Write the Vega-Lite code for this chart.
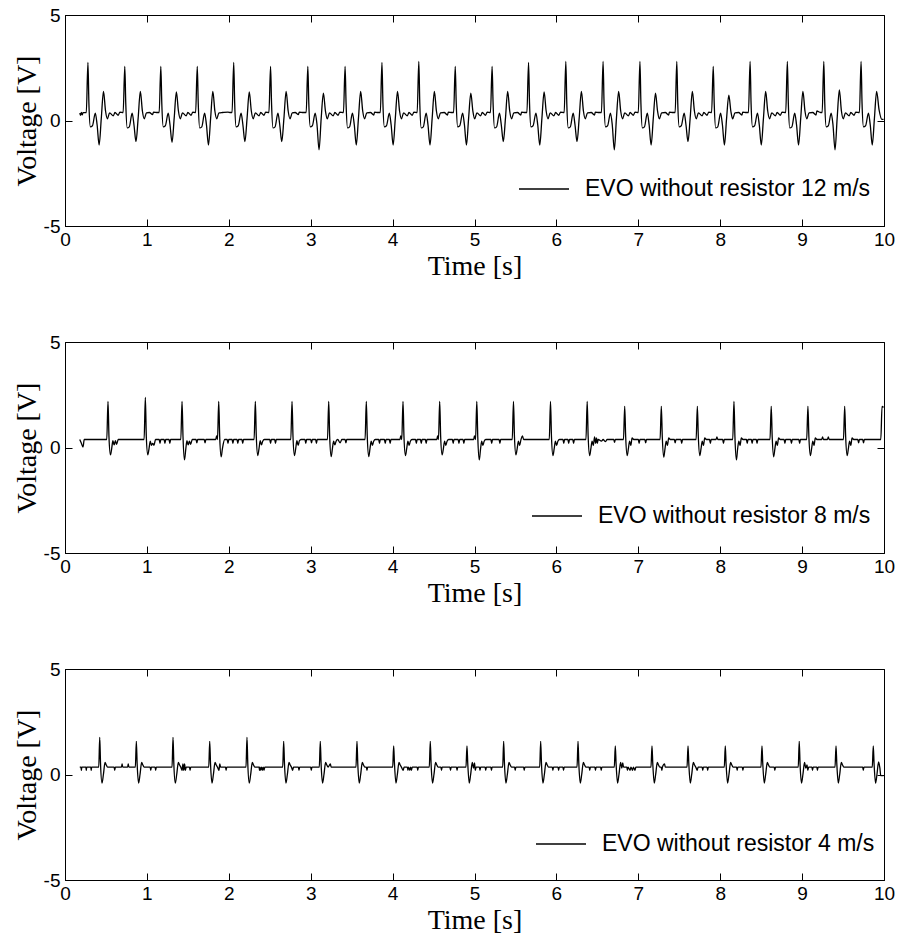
{
"$schema": "https://vega.github.io/schema/vega-lite/v6.json",
"padding": {"left": 12, "top": 5, "right": 0, "bottom": 0},
"datasets": {
"p1": [
{"t":0.18,"v":0.35},{"t":0.19,"v":0.25},{"t":0.2,"v":0.38},{"t":0.21,"v":0.27},{"t":0.22,"v":0.37},{"t":0.26,"v":0.38},
{"t":0.28,"v":2.75},{"t":0.292,"v":0.8},{"t":0.31,"v":-0.3},{"t":0.335,"v":-0.25},{"t":0.37,"v":0.35},{"t":0.392,"v":-0.2},{"t":0.417,"v":-1.16},{"t":0.443,"v":0.1},{"t":0.47,"v":1.38},{"t":0.495,"v":0.45},{"t":0.517,"v":0.08},{"t":0.545,"v":0.36},{"t":0.59,"v":0.22},{"t":0.61,"v":0.38},{"t":0.65,"v":0.25},{"t":0.67,"v":0.4},
{"t":0.71,"v":0.38},{"t":0.73,"v":2.56},{"t":0.742,"v":0.8},{"t":0.76,"v":-0.35},{"t":0.785,"v":-0.3},{"t":0.82,"v":0.35},{"t":0.842,"v":-0.2},{"t":0.867,"v":-1.0},{"t":0.893,"v":0.1},{"t":0.92,"v":1.38},{"t":0.945,"v":0.45},{"t":0.967,"v":0.08},{"t":0.995,"v":0.36},{"t":1.03,"v":0.38},{"t":1.07,"v":0.28},{"t":1.08,"v":0.4},{"t":1.13,"v":0.38},
{"t":1.15,"v":0.38},{"t":1.17,"v":2.56},{"t":1.182,"v":0.8},{"t":1.2,"v":-0.3},{"t":1.225,"v":-0.25},{"t":1.26,"v":0.35},{"t":1.282,"v":-0.2},{"t":1.307,"v":-1.04},{"t":1.333,"v":0.1},{"t":1.36,"v":1.35},{"t":1.385,"v":0.45},{"t":1.407,"v":0.08},{"t":1.435,"v":0.36},{"t":1.48,"v":0.22},{"t":1.5,"v":0.38},{"t":1.54,"v":0.25},{"t":1.56,"v":0.4},
{"t":1.595,"v":0.38},{"t":1.615,"v":2.56},{"t":1.627,"v":0.8},{"t":1.645,"v":-0.35},{"t":1.67,"v":-0.3},{"t":1.705,"v":0.35},{"t":1.727,"v":-0.2},{"t":1.752,"v":-1.16},{"t":1.778,"v":0.1},{"t":1.805,"v":1.38},{"t":1.83,"v":0.45},{"t":1.852,"v":0.08},{"t":1.88,"v":0.36},{"t":1.925,"v":0.38},{"t":1.99,"v":0.4},{"t":2.02,"v":0.38},
{"t":2.04,"v":0.38},{"t":2.06,"v":2.75},{"t":2.072,"v":0.8},{"t":2.09,"v":-0.3},{"t":2.115,"v":-0.25},{"t":2.15,"v":0.35},{"t":2.172,"v":-0.2},{"t":2.197,"v":-1.0},{"t":2.223,"v":0.1},{"t":2.25,"v":1.35},{"t":2.275,"v":0.45},{"t":2.297,"v":0.08},{"t":2.325,"v":0.36},{"t":2.37,"v":0.22},{"t":2.39,"v":0.38},{"t":2.43,"v":0.25},{"t":2.45,"v":0.4},
{"t":2.49,"v":0.38},{"t":2.51,"v":2.56},{"t":2.522,"v":0.8},{"t":2.54,"v":-0.35},{"t":2.565,"v":-0.3},{"t":2.6,"v":0.35},{"t":2.622,"v":-0.2},{"t":2.647,"v":-1.0},{"t":2.673,"v":0.1},{"t":2.7,"v":1.38},{"t":2.725,"v":0.45},{"t":2.747,"v":0.08},{"t":2.775,"v":0.36},{"t":2.81,"v":0.38},{"t":2.85,"v":0.28},{"t":2.86,"v":0.4},{"t":2.91,"v":0.38},
{"t":2.945,"v":0.38},{"t":2.965,"v":2.56},{"t":2.977,"v":0.8},{"t":2.995,"v":-0.3},{"t":3.02,"v":-0.25},{"t":3.055,"v":0.35},{"t":3.077,"v":-0.2},{"t":3.102,"v":-1.39},{"t":3.128,"v":0.1},{"t":3.155,"v":1.3},{"t":3.18,"v":0.45},{"t":3.202,"v":0.08},{"t":3.23,"v":0.36},{"t":3.275,"v":0.22},{"t":3.295,"v":0.38},{"t":3.335,"v":0.25},{"t":3.355,"v":0.4},
{"t":3.4,"v":0.38},{"t":3.42,"v":2.56},{"t":3.432,"v":0.8},{"t":3.45,"v":-0.35},{"t":3.475,"v":-0.3},{"t":3.51,"v":0.35},{"t":3.532,"v":-0.2},{"t":3.557,"v":-1.16},{"t":3.583,"v":0.1},{"t":3.61,"v":1.38},{"t":3.635,"v":0.45},{"t":3.657,"v":0.08},{"t":3.685,"v":0.36},{"t":3.73,"v":0.38},{"t":3.77,"v":0.26},{"t":3.78,"v":0.4},{"t":3.82,"v":0.38},
{"t":3.85,"v":0.38},{"t":3.87,"v":2.75},{"t":3.882,"v":0.8},{"t":3.9,"v":-0.3},{"t":3.925,"v":-0.25},{"t":3.96,"v":0.35},{"t":3.982,"v":-0.2},{"t":4.007,"v":-1.16},{"t":4.033,"v":0.1},{"t":4.06,"v":1.38},{"t":4.085,"v":0.45},{"t":4.107,"v":0.08},{"t":4.135,"v":0.36},{"t":4.18,"v":0.22},{"t":4.2,"v":0.38},{"t":4.24,"v":0.25},{"t":4.26,"v":0.4},
{"t":4.3,"v":0.38},{"t":4.32,"v":2.8},{"t":4.332,"v":0.8},{"t":4.35,"v":-0.35},{"t":4.375,"v":-0.3},{"t":4.41,"v":0.35},{"t":4.432,"v":-0.2},{"t":4.457,"v":-1.16},{"t":4.483,"v":0.1},{"t":4.51,"v":1.38},{"t":4.535,"v":0.45},{"t":4.557,"v":0.08},{"t":4.585,"v":0.36},{"t":4.63,"v":0.38},{"t":4.67,"v":0.26},{"t":4.68,"v":0.4},{"t":4.725,"v":0.38},
{"t":4.745,"v":0.38},{"t":4.765,"v":2.56},{"t":4.777,"v":0.8},{"t":4.795,"v":-0.3},{"t":4.82,"v":-0.25},{"t":4.855,"v":0.35},{"t":4.877,"v":-0.2},{"t":4.902,"v":-1.16},{"t":4.928,"v":0.1},{"t":4.955,"v":1.3},{"t":4.98,"v":0.45},{"t":5.002,"v":0.08},{"t":5.03,"v":0.36},{"t":5.075,"v":0.22},{"t":5.095,"v":0.38},{"t":5.135,"v":0.25},{"t":5.155,"v":0.4},
{"t":5.195,"v":0.38},{"t":5.215,"v":2.56},{"t":5.227,"v":0.8},{"t":5.245,"v":-0.35},{"t":5.27,"v":-0.3},{"t":5.305,"v":0.35},{"t":5.327,"v":-0.2},{"t":5.352,"v":-1.0},{"t":5.378,"v":0.1},{"t":5.405,"v":1.38},{"t":5.43,"v":0.45},{"t":5.452,"v":0.08},{"t":5.48,"v":0.36},{"t":5.525,"v":0.38},{"t":5.565,"v":0.26},{"t":5.575,"v":0.4},{"t":5.62,"v":0.38},
{"t":5.64,"v":0.38},{"t":5.66,"v":2.75},{"t":5.672,"v":0.8},{"t":5.69,"v":-0.3},{"t":5.715,"v":-0.25},{"t":5.75,"v":0.35},{"t":5.772,"v":-0.2},{"t":5.797,"v":-1.16},{"t":5.823,"v":0.1},{"t":5.85,"v":1.35},{"t":5.875,"v":0.45},{"t":5.897,"v":0.08},{"t":5.925,"v":0.36},{"t":5.97,"v":0.22},{"t":5.99,"v":0.38},{"t":6.03,"v":0.25},{"t":6.05,"v":0.4},
{"t":6.095,"v":0.38},{"t":6.115,"v":2.8},{"t":6.127,"v":0.8},{"t":6.145,"v":-0.35},{"t":6.17,"v":-0.3},{"t":6.205,"v":0.35},{"t":6.227,"v":-0.2},{"t":6.252,"v":-1.0},{"t":6.278,"v":0.1},{"t":6.305,"v":1.38},{"t":6.33,"v":0.45},{"t":6.352,"v":0.08},{"t":6.38,"v":0.36},{"t":6.425,"v":0.38},{"t":6.465,"v":0.26},{"t":6.475,"v":0.4},{"t":6.52,"v":0.38},
{"t":6.55,"v":0.38},{"t":6.57,"v":2.8},{"t":6.582,"v":0.8},{"t":6.6,"v":-0.3},{"t":6.625,"v":-0.25},{"t":6.66,"v":0.35},{"t":6.682,"v":-0.2},{"t":6.707,"v":-1.39},{"t":6.733,"v":0.1},{"t":6.76,"v":1.38},{"t":6.785,"v":0.45},{"t":6.807,"v":0.08},{"t":6.835,"v":0.36},{"t":6.88,"v":0.22},{"t":6.9,"v":0.38},{"t":6.94,"v":0.25},{"t":6.96,"v":0.4},
{"t":7.0,"v":0.38},{"t":7.02,"v":2.8},{"t":7.032,"v":0.8},{"t":7.05,"v":-0.35},{"t":7.075,"v":-0.3},{"t":7.11,"v":0.35},{"t":7.132,"v":-0.2},{"t":7.157,"v":-1.16},{"t":7.183,"v":0.1},{"t":7.21,"v":1.3},{"t":7.235,"v":0.45},{"t":7.257,"v":0.08},{"t":7.285,"v":0.36},{"t":7.33,"v":0.38},{"t":7.37,"v":0.26},{"t":7.38,"v":0.4},{"t":7.425,"v":0.38},
{"t":7.45,"v":0.38},{"t":7.47,"v":2.8},{"t":7.482,"v":0.8},{"t":7.5,"v":-0.3},{"t":7.525,"v":-0.25},{"t":7.56,"v":0.35},{"t":7.582,"v":-0.2},{"t":7.607,"v":-1.0},{"t":7.633,"v":0.1},{"t":7.66,"v":1.38},{"t":7.685,"v":0.45},{"t":7.707,"v":0.08},{"t":7.735,"v":0.36},{"t":7.78,"v":0.22},{"t":7.8,"v":0.38},{"t":7.84,"v":0.25},{"t":7.86,"v":0.4},
{"t":7.895,"v":0.38},{"t":7.915,"v":2.56},{"t":7.927,"v":0.8},{"t":7.945,"v":-0.35},{"t":7.97,"v":-0.3},{"t":8.005,"v":0.35},{"t":8.027,"v":-0.2},{"t":8.052,"v":-1.16},{"t":8.078,"v":0.1},{"t":8.105,"v":1.2},{"t":8.13,"v":0.45},{"t":8.152,"v":0.08},{"t":8.18,"v":0.36},{"t":8.225,"v":0.38},{"t":8.265,"v":0.26},{"t":8.275,"v":0.4},{"t":8.32,"v":0.38},
{"t":8.345,"v":0.38},{"t":8.365,"v":2.8},{"t":8.377,"v":0.8},{"t":8.395,"v":-0.3},{"t":8.42,"v":-0.25},{"t":8.455,"v":0.35},{"t":8.477,"v":-0.2},{"t":8.502,"v":-1.16},{"t":8.528,"v":0.1},{"t":8.555,"v":1.38},{"t":8.58,"v":0.45},{"t":8.602,"v":0.08},{"t":8.63,"v":0.36},{"t":8.675,"v":0.22},{"t":8.695,"v":0.38},{"t":8.735,"v":0.25},{"t":8.755,"v":0.4},
{"t":8.8,"v":0.38},{"t":8.82,"v":2.8},{"t":8.832,"v":0.8},{"t":8.85,"v":-0.35},{"t":8.875,"v":-0.3},{"t":8.91,"v":0.35},{"t":8.932,"v":-0.2},{"t":8.957,"v":-1.16},{"t":8.983,"v":0.1},{"t":9.01,"v":1.38},{"t":9.035,"v":0.45},{"t":9.057,"v":0.08},{"t":9.085,"v":0.36},{"t":9.13,"v":0.38},{"t":9.17,"v":0.26},{"t":9.18,"v":0.45},{"t":9.225,"v":0.38},
{"t":9.245,"v":0.38},{"t":9.265,"v":2.8},{"t":9.277,"v":0.8},{"t":9.295,"v":-0.3},{"t":9.32,"v":-0.25},{"t":9.355,"v":0.35},{"t":9.377,"v":-0.2},{"t":9.402,"v":-1.39},{"t":9.428,"v":0.1},{"t":9.455,"v":1.45},{"t":9.48,"v":0.45},{"t":9.502,"v":0.08},{"t":9.53,"v":0.36},{"t":9.575,"v":0.22},{"t":9.595,"v":0.38},{"t":9.635,"v":0.25},{"t":9.655,"v":0.4},
{"t":9.7,"v":0.38},{"t":9.72,"v":2.8},{"t":9.732,"v":0.8},{"t":9.75,"v":-0.3},{"t":9.775,"v":-0.25},{"t":9.81,"v":0.35},{"t":9.832,"v":-0.2},{"t":9.857,"v":-1.16},{"t":9.883,"v":0.1},{"t":9.91,"v":1.38},{"t":9.94,"v":0.5},{"t":9.975,"v":0.05},{"t":9.995,"v":0.05}
],
"p2": [
{"t":0.18,"v":0.38},{"t":0.2,"v":0.2},{"t":0.22,"v":0.02},{"t":0.235,"v":0.38},{"t":0.51,"v":0.38},
{"t":0.525,"v":2.18},{"t":0.537,"v":0.5},{"t":0.555,"v":-0.35},{"t":0.57,"v":-0.05},{"t":0.585,"v":0.32},{"t":0.6,"v":0.12},{"t":0.615,"v":0.32},{"t":0.63,"v":0.15},{"t":0.65,"v":0.38},{"t":0.966,"v":0.38},
{"t":0.981,"v":2.37},{"t":0.993,"v":0.5},{"t":1.011,"v":-0.35},{"t":1.026,"v":-0.05},{"t":1.041,"v":0.3},{"t":1.056,"v":0.1},{"t":1.071,"v":0.2},{"t":1.086,"v":0.1},{"t":1.106,"v":0.38},{"t":1.15,"v":0.38},{"t":1.16,"v":0.2},{"t":1.17,"v":0.38},{"t":1.21,"v":0.38},{"t":1.22,"v":0.2},{"t":1.23,"v":0.38},{"t":1.27,"v":0.38},{"t":1.28,"v":0.2},{"t":1.29,"v":0.38},{"t":1.414,"v":0.38},
{"t":1.429,"v":2.18},{"t":1.441,"v":0.5},{"t":1.459,"v":-0.59},{"t":1.474,"v":-0.1},{"t":1.489,"v":0.32},{"t":1.504,"v":0.12},{"t":1.519,"v":0.3},{"t":1.534,"v":0.15},{"t":1.554,"v":0.38},{"t":1.6,"v":0.38},{"t":1.61,"v":0.22},{"t":1.62,"v":0.38},{"t":1.7,"v":0.38},{"t":1.71,"v":0.22},{"t":1.72,"v":0.38},{"t":1.84,"v":0.38},{"t":1.852,"v":0.55},{"t":1.862,"v":0.38},
{"t":1.877,"v":2.18},{"t":1.889,"v":0.5},{"t":1.907,"v":-0.44},{"t":1.922,"v":-0.05},{"t":1.95,"v":0.38},{"t":1.98,"v":0.38},{"t":1.99,"v":0.2},{"t":2.0,"v":0.38},{"t":2.04,"v":0.38},{"t":2.05,"v":0.2},{"t":2.06,"v":0.38},{"t":2.1,"v":0.38},{"t":2.11,"v":0.2},{"t":2.12,"v":0.38},{"t":2.16,"v":0.38},{"t":2.17,"v":0.2},{"t":2.18,"v":0.38},{"t":2.309,"v":0.38},
{"t":2.324,"v":2.18},{"t":2.336,"v":0.5},{"t":2.354,"v":-0.38},{"t":2.369,"v":-0.05},{"t":2.384,"v":0.32},{"t":2.399,"v":0.12},{"t":2.414,"v":0.3},{"t":2.434,"v":0.38},{"t":2.5,"v":0.38},{"t":2.51,"v":0.2},{"t":2.52,"v":0.38},{"t":2.56,"v":0.38},{"t":2.57,"v":0.2},{"t":2.58,"v":0.38},{"t":2.757,"v":0.38},
{"t":2.772,"v":2.18},{"t":2.784,"v":0.5},{"t":2.802,"v":-0.38},{"t":2.817,"v":-0.05},{"t":2.832,"v":0.32},{"t":2.847,"v":0.1},{"t":2.862,"v":0.32},{"t":2.882,"v":0.38},{"t":2.93,"v":0.38},{"t":2.94,"v":0.2},{"t":2.95,"v":0.38},{"t":3.0,"v":0.38},{"t":3.01,"v":0.22},{"t":3.02,"v":0.38},{"t":3.06,"v":0.38},{"t":3.07,"v":0.2},{"t":3.08,"v":0.38},{"t":3.205,"v":0.38},
{"t":3.22,"v":2.18},{"t":3.232,"v":0.5},{"t":3.25,"v":-0.43},{"t":3.265,"v":-0.05},{"t":3.28,"v":0.3},{"t":3.295,"v":0.12},{"t":3.31,"v":0.3},{"t":3.33,"v":0.38},{"t":3.36,"v":0.22},{"t":3.38,"v":0.38},{"t":3.42,"v":0.38},{"t":3.43,"v":0.22},{"t":3.44,"v":0.38},{"t":3.664,"v":0.38},
{"t":3.679,"v":2.18},{"t":3.691,"v":0.5},{"t":3.709,"v":-0.43},{"t":3.724,"v":-0.05},{"t":3.739,"v":0.3},{"t":3.754,"v":0.1},{"t":3.769,"v":0.3},{"t":3.789,"v":0.38},{"t":3.83,"v":0.38},{"t":3.84,"v":0.2},{"t":3.85,"v":0.38},{"t":3.9,"v":0.38},{"t":3.91,"v":0.2},{"t":3.92,"v":0.38},{"t":3.96,"v":0.38},{"t":3.97,"v":0.2},{"t":3.98,"v":0.38},{"t":4.09,"v":0.38},{"t":4.1,"v":0.55},{"t":4.112,"v":0.38},
{"t":4.127,"v":2.18},{"t":4.139,"v":0.5},{"t":4.157,"v":-0.38},{"t":4.172,"v":-0.05},{"t":4.187,"v":0.3},{"t":4.202,"v":0.1},{"t":4.217,"v":0.3},{"t":4.237,"v":0.38},{"t":4.28,"v":0.38},{"t":4.29,"v":0.2},{"t":4.3,"v":0.38},{"t":4.34,"v":0.38},{"t":4.35,"v":0.2},{"t":4.36,"v":0.38},{"t":4.4,"v":0.38},{"t":4.41,"v":0.2},{"t":4.42,"v":0.38},{"t":4.54,"v":0.38},{"t":4.55,"v":0.55},{"t":4.56,"v":0.38},
{"t":4.575,"v":2.18},{"t":4.587,"v":0.5},{"t":4.605,"v":-0.35},{"t":4.62,"v":-0.05},{"t":4.635,"v":0.3},{"t":4.65,"v":0.1},{"t":4.665,"v":0.3},{"t":4.685,"v":0.38},{"t":4.73,"v":0.38},{"t":4.74,"v":0.2},{"t":4.75,"v":0.38},{"t":4.8,"v":0.38},{"t":4.81,"v":0.2},{"t":4.82,"v":0.38},{"t":4.86,"v":0.38},{"t":4.87,"v":0.2},{"t":4.88,"v":0.38},{"t":4.99,"v":0.38},{"t":5.0,"v":0.55},{"t":5.013,"v":0.38},
{"t":5.028,"v":2.18},{"t":5.04,"v":0.5},{"t":5.058,"v":-0.59},{"t":5.073,"v":-0.1},{"t":5.088,"v":0.3},{"t":5.103,"v":0.1},{"t":5.118,"v":0.3},{"t":5.138,"v":0.38},{"t":5.2,"v":0.38},{"t":5.21,"v":0.2},{"t":5.22,"v":0.38},{"t":5.3,"v":0.38},{"t":5.31,"v":0.2},{"t":5.32,"v":0.38},{"t":5.461,"v":0.38},
{"t":5.476,"v":2.18},{"t":5.488,"v":0.5},{"t":5.506,"v":-0.35},{"t":5.521,"v":-0.05},{"t":5.536,"v":0.3},{"t":5.551,"v":0.1},{"t":5.566,"v":0.35},{"t":5.585,"v":0.55},{"t":5.6,"v":0.38},{"t":5.913,"v":0.38},
{"t":5.928,"v":2.18},{"t":5.94,"v":0.5},{"t":5.958,"v":-0.38},{"t":5.973,"v":-0.05},{"t":5.988,"v":0.3},{"t":6.003,"v":0.1},{"t":6.018,"v":0.3},{"t":6.038,"v":0.38},{"t":6.08,"v":0.38},{"t":6.09,"v":0.2},{"t":6.1,"v":0.38},{"t":6.14,"v":0.38},{"t":6.15,"v":0.2},{"t":6.16,"v":0.38},{"t":6.2,"v":0.38},{"t":6.21,"v":0.2},{"t":6.22,"v":0.38},{"t":6.361,"v":0.38},
{"t":6.376,"v":2.18},{"t":6.388,"v":0.5},{"t":6.406,"v":-0.38},{"t":6.421,"v":-0.05},{"t":6.436,"v":0.3},{"t":6.451,"v":0.1},{"t":6.466,"v":0.5},{"t":6.48,"v":0.2},{"t":6.49,"v":0.45},{"t":6.5,"v":0.2},{"t":6.51,"v":0.38},{"t":6.55,"v":0.3},{"t":6.57,"v":0.38},{"t":6.6,"v":0.28},{"t":6.62,"v":0.38},{"t":6.7,"v":0.38},{"t":6.71,"v":0.25},{"t":6.72,"v":0.38},{"t":6.819,"v":0.38},
{"t":6.834,"v":1.95},{"t":6.846,"v":0.5},{"t":6.864,"v":-0.38},{"t":6.879,"v":-0.05},{"t":6.894,"v":0.3},{"t":6.909,"v":0.1},{"t":6.924,"v":0.45},{"t":6.944,"v":0.38},{"t":7.0,"v":0.38},{"t":7.01,"v":0.2},{"t":7.02,"v":0.38},{"t":7.08,"v":0.38},{"t":7.09,"v":0.22},{"t":7.1,"v":0.38},{"t":7.266,"v":0.38},
{"t":7.281,"v":1.95},{"t":7.293,"v":0.5},{"t":7.311,"v":-0.46},{"t":7.326,"v":-0.05},{"t":7.341,"v":0.3},{"t":7.356,"v":0.1},{"t":7.371,"v":0.45},{"t":7.391,"v":0.38},{"t":7.44,"v":0.38},{"t":7.45,"v":0.22},{"t":7.46,"v":0.38},{"t":7.52,"v":0.38},{"t":7.53,"v":0.2},{"t":7.54,"v":0.38},{"t":7.706,"v":0.38},
{"t":7.721,"v":1.95},{"t":7.733,"v":0.5},{"t":7.751,"v":-0.38},{"t":7.766,"v":-0.05},{"t":7.781,"v":0.3},{"t":7.796,"v":0.1},{"t":7.811,"v":0.45},{"t":7.831,"v":0.38},{"t":7.87,"v":0.38},{"t":7.88,"v":0.2},{"t":7.89,"v":0.38},{"t":7.95,"v":0.38},{"t":7.96,"v":0.5},{"t":7.97,"v":0.38},{"t":8.03,"v":0.38},{"t":8.04,"v":0.2},{"t":8.05,"v":0.38},{"t":8.153,"v":0.38},
{"t":8.168,"v":2.18},{"t":8.18,"v":0.5},{"t":8.198,"v":-0.59},{"t":8.213,"v":-0.05},{"t":8.228,"v":0.3},{"t":8.243,"v":0.1},{"t":8.258,"v":0.45},{"t":8.278,"v":0.38},{"t":8.32,"v":0.38},{"t":8.33,"v":0.2},{"t":8.34,"v":0.38},{"t":8.38,"v":0.38},{"t":8.39,"v":0.2},{"t":8.4,"v":0.38},{"t":8.44,"v":0.38},{"t":8.45,"v":0.2},{"t":8.46,"v":0.38},{"t":8.608,"v":0.38},
{"t":8.623,"v":1.95},{"t":8.635,"v":0.5},{"t":8.653,"v":-0.44},{"t":8.668,"v":-0.05},{"t":8.683,"v":0.3},{"t":8.698,"v":0.1},{"t":8.713,"v":0.45},{"t":8.733,"v":0.38},{"t":8.78,"v":0.38},{"t":8.79,"v":0.2},{"t":8.8,"v":0.38},{"t":8.86,"v":0.38},{"t":8.87,"v":0.2},{"t":8.88,"v":0.38},{"t":8.96,"v":0.38},{"t":8.97,"v":0.2},{"t":8.98,"v":0.38},{"t":9.056,"v":0.38},
{"t":9.071,"v":1.95},{"t":9.083,"v":0.5},{"t":9.101,"v":-0.38},{"t":9.116,"v":-0.05},{"t":9.131,"v":0.3},{"t":9.146,"v":0.1},{"t":9.161,"v":0.45},{"t":9.181,"v":0.38},{"t":9.24,"v":0.38},{"t":9.25,"v":0.5},{"t":9.26,"v":0.38},{"t":9.31,"v":0.38},{"t":9.32,"v":0.5},{"t":9.33,"v":0.38},{"t":9.505,"v":0.38},
{"t":9.52,"v":1.95},{"t":9.532,"v":0.5},{"t":9.55,"v":-0.38},{"t":9.565,"v":-0.05},{"t":9.58,"v":0.3},{"t":9.595,"v":0.1},{"t":9.61,"v":0.45},{"t":9.63,"v":0.38},{"t":9.68,"v":0.38},{"t":9.69,"v":0.22},{"t":9.7,"v":0.38},{"t":9.74,"v":0.38},{"t":9.75,"v":0.22},{"t":9.76,"v":0.38},{"t":9.961,"v":0.38},
{"t":9.976,"v":1.95},{"t":9.995,"v":1.9}
],
"p3": [
{"t":0.18,"v":0.35},{"t":0.195,"v":0.35},{"t":0.2,"v":0.2},{"t":0.205,"v":0.35},{"t":0.255,"v":0.35},{"t":0.26,"v":0.2},{"t":0.265,"v":0.35},{"t":0.315,"v":0.35},{"t":0.32,"v":0.2},{"t":0.325,"v":0.35},{"t":0.412,"v":0.35},
{"t":0.424,"v":1.76},{"t":0.434,"v":0.5},{"t":0.452,"v":-0.41},{"t":0.469,"v":0.0},{"t":0.489,"v":0.57},{"t":0.504,"v":0.45},{"t":0.519,"v":0.35},{"t":0.6,"v":0.35},{"t":0.607,"v":0.2},{"t":0.615,"v":0.35},{"t":0.69,"v":0.35},{"t":0.697,"v":0.5},{"t":0.705,"v":0.35},{"t":0.765,"v":0.35},{"t":0.772,"v":0.5},{"t":0.78,"v":0.35},{"t":0.859,"v":0.35},
{"t":0.871,"v":1.57},{"t":0.881,"v":0.5},{"t":0.899,"v":-0.41},{"t":0.916,"v":0.0},{"t":0.936,"v":0.57},{"t":0.951,"v":0.45},{"t":0.966,"v":0.35},{"t":1.04,"v":0.35},{"t":1.047,"v":0.2},{"t":1.055,"v":0.35},{"t":1.1,"v":0.35},{"t":1.107,"v":0.2},{"t":1.115,"v":0.35},{"t":1.307,"v":0.35},
{"t":1.319,"v":1.76},{"t":1.329,"v":0.5},{"t":1.347,"v":-0.41},{"t":1.364,"v":0.0},{"t":1.384,"v":0.57},{"t":1.399,"v":0.45},{"t":1.414,"v":0.35},{"t":1.43,"v":0.2},{"t":1.44,"v":0.5},{"t":1.45,"v":0.2},{"t":1.46,"v":0.5},{"t":1.47,"v":0.2},{"t":1.48,"v":0.35},{"t":1.52,"v":0.35},{"t":1.527,"v":0.2},{"t":1.535,"v":0.35},{"t":1.755,"v":0.35},
{"t":1.767,"v":1.57},{"t":1.777,"v":0.5},{"t":1.795,"v":-0.41},{"t":1.812,"v":0.0},{"t":1.832,"v":0.57},{"t":1.847,"v":0.45},{"t":1.862,"v":0.35},{"t":1.88,"v":0.2},{"t":1.89,"v":0.5},{"t":1.9,"v":0.35},{"t":1.96,"v":0.35},{"t":1.967,"v":0.2},{"t":1.975,"v":0.35},{"t":2.21,"v":0.35},
{"t":2.222,"v":1.76},{"t":2.232,"v":0.5},{"t":2.25,"v":-0.41},{"t":2.267,"v":0.0},{"t":2.287,"v":0.57},{"t":2.302,"v":0.45},{"t":2.317,"v":0.35},{"t":2.37,"v":0.35},{"t":2.375,"v":0.2},{"t":2.38,"v":0.35},{"t":2.39,"v":0.2},{"t":2.4,"v":0.35},{"t":2.41,"v":0.2},{"t":2.42,"v":0.35},{"t":2.43,"v":0.2},{"t":2.44,"v":0.35},{"t":2.658,"v":0.35},
{"t":2.67,"v":1.57},{"t":2.68,"v":0.5},{"t":2.698,"v":-0.41},{"t":2.715,"v":0.0},{"t":2.735,"v":0.57},{"t":2.75,"v":0.45},{"t":2.765,"v":0.35},{"t":2.78,"v":0.2},{"t":2.79,"v":0.35},{"t":2.85,"v":0.35},{"t":2.857,"v":0.2},{"t":2.865,"v":0.35},{"t":3.0,"v":0.35},{"t":3.007,"v":0.2},{"t":3.015,"v":0.35},{"t":3.105,"v":0.35},
{"t":3.117,"v":1.57},{"t":3.127,"v":0.5},{"t":3.145,"v":-0.41},{"t":3.162,"v":0.0},{"t":3.182,"v":0.57},{"t":3.197,"v":0.45},{"t":3.212,"v":0.35},{"t":3.24,"v":0.5},{"t":3.25,"v":0.35},{"t":3.553,"v":0.35},
{"t":3.565,"v":1.57},{"t":3.575,"v":0.5},{"t":3.593,"v":-0.41},{"t":3.61,"v":0.0},{"t":3.63,"v":0.57},{"t":3.645,"v":0.45},{"t":3.66,"v":0.35},{"t":3.68,"v":0.35},{"t":3.687,"v":0.2},{"t":3.695,"v":0.35},{"t":4.001,"v":0.35},
{"t":4.013,"v":1.36},{"t":4.023,"v":0.5},{"t":4.041,"v":-0.41},{"t":4.058,"v":0.0},{"t":4.078,"v":0.57},{"t":4.093,"v":0.45},{"t":4.108,"v":0.35},{"t":4.13,"v":0.2},{"t":4.14,"v":0.35},{"t":4.18,"v":0.35},{"t":4.187,"v":0.2},{"t":4.195,"v":0.35},{"t":4.21,"v":0.2},{"t":4.22,"v":0.35},{"t":4.23,"v":0.2},{"t":4.24,"v":0.35},{"t":4.3,"v":0.35},{"t":4.307,"v":0.2},{"t":4.315,"v":0.35},{"t":4.448,"v":0.35},
{"t":4.46,"v":1.57},{"t":4.47,"v":0.5},{"t":4.488,"v":-0.41},{"t":4.505,"v":0.0},{"t":4.525,"v":0.57},{"t":4.54,"v":0.45},{"t":4.555,"v":0.35},{"t":4.59,"v":0.35},{"t":4.597,"v":0.2},{"t":4.605,"v":0.35},{"t":4.7,"v":0.35},{"t":4.707,"v":0.2},{"t":4.715,"v":0.35},{"t":4.78,"v":0.35},{"t":4.787,"v":0.2},{"t":4.795,"v":0.35},{"t":4.896,"v":0.35},
{"t":4.908,"v":1.36},{"t":4.918,"v":0.5},{"t":4.936,"v":-0.41},{"t":4.953,"v":0.0},{"t":4.973,"v":0.57},{"t":4.988,"v":0.3},{"t":5.0,"v":0.55},{"t":5.01,"v":0.2},{"t":5.02,"v":0.35},{"t":5.06,"v":0.35},{"t":5.067,"v":0.2},{"t":5.075,"v":0.35},{"t":5.13,"v":0.35},{"t":5.137,"v":0.2},{"t":5.145,"v":0.35},{"t":5.2,"v":0.35},{"t":5.207,"v":0.2},{"t":5.215,"v":0.35},{"t":5.344,"v":0.35},
{"t":5.356,"v":1.57},{"t":5.366,"v":0.5},{"t":5.384,"v":-0.41},{"t":5.401,"v":0.0},{"t":5.421,"v":0.57},{"t":5.436,"v":0.45},{"t":5.451,"v":0.35},{"t":5.49,"v":0.35},{"t":5.497,"v":0.2},{"t":5.505,"v":0.35},{"t":5.6,"v":0.35},{"t":5.607,"v":0.2},{"t":5.615,"v":0.35},{"t":5.796,"v":0.35},
{"t":5.808,"v":1.57},{"t":5.818,"v":0.5},{"t":5.836,"v":-0.41},{"t":5.853,"v":0.0},{"t":5.873,"v":0.57},{"t":5.888,"v":0.45},{"t":5.903,"v":0.35},{"t":5.95,"v":0.35},{"t":5.957,"v":0.2},{"t":5.965,"v":0.35},{"t":6.02,"v":0.35},{"t":6.027,"v":0.2},{"t":6.035,"v":0.35},{"t":6.08,"v":0.35},{"t":6.087,"v":0.2},{"t":6.095,"v":0.35},{"t":6.252,"v":0.35},
{"t":6.264,"v":1.57},{"t":6.274,"v":0.5},{"t":6.292,"v":-0.41},{"t":6.309,"v":0.0},{"t":6.329,"v":0.57},{"t":6.344,"v":0.45},{"t":6.359,"v":0.35},{"t":6.4,"v":0.35},{"t":6.407,"v":0.2},{"t":6.415,"v":0.35},{"t":6.47,"v":0.35},{"t":6.477,"v":0.2},{"t":6.485,"v":0.35},{"t":6.54,"v":0.35},{"t":6.547,"v":0.2},{"t":6.555,"v":0.35},{"t":6.707,"v":0.35},
{"t":6.719,"v":1.36},{"t":6.729,"v":0.5},{"t":6.747,"v":-0.41},{"t":6.764,"v":0.0},{"t":6.784,"v":0.57},{"t":6.799,"v":0.3},{"t":6.81,"v":0.55},{"t":6.82,"v":0.35},{"t":6.86,"v":0.35},{"t":6.867,"v":0.2},{"t":6.875,"v":0.35},{"t":6.9,"v":0.2},{"t":6.91,"v":0.35},{"t":6.93,"v":0.2},{"t":6.94,"v":0.35},{"t":6.96,"v":0.2},{"t":6.97,"v":0.35},{"t":7.155,"v":0.35},
{"t":7.167,"v":1.36},{"t":7.177,"v":0.5},{"t":7.195,"v":-0.41},{"t":7.212,"v":0.0},{"t":7.232,"v":0.57},{"t":7.247,"v":0.45},{"t":7.262,"v":0.35},{"t":7.28,"v":0.35},{"t":7.287,"v":0.2},{"t":7.295,"v":0.35},{"t":7.32,"v":0.5},{"t":7.33,"v":0.35},{"t":7.595,"v":0.35},
{"t":7.607,"v":1.36},{"t":7.617,"v":0.5},{"t":7.635,"v":-0.41},{"t":7.652,"v":0.0},{"t":7.672,"v":0.57},{"t":7.687,"v":0.45},{"t":7.702,"v":0.35},{"t":7.72,"v":0.2},{"t":7.73,"v":0.35},{"t":7.78,"v":0.35},{"t":7.787,"v":0.2},{"t":7.795,"v":0.35},{"t":7.84,"v":0.35},{"t":7.847,"v":0.2},{"t":7.855,"v":0.35},{"t":8.05,"v":0.35},
{"t":8.062,"v":1.36},{"t":8.072,"v":0.5},{"t":8.09,"v":-0.41},{"t":8.107,"v":0.0},{"t":8.127,"v":0.57},{"t":8.142,"v":0.45},{"t":8.157,"v":0.35},{"t":8.2,"v":0.35},{"t":8.207,"v":0.2},{"t":8.215,"v":0.35},{"t":8.27,"v":0.35},{"t":8.277,"v":0.2},{"t":8.285,"v":0.35},{"t":8.498,"v":0.35},
{"t":8.51,"v":1.36},{"t":8.52,"v":0.5},{"t":8.538,"v":-0.41},{"t":8.555,"v":0.0},{"t":8.575,"v":0.57},{"t":8.59,"v":0.45},{"t":8.605,"v":0.35},{"t":8.66,"v":0.35},{"t":8.667,"v":0.2},{"t":8.675,"v":0.35},{"t":8.953,"v":0.35},
{"t":8.965,"v":1.57},{"t":8.975,"v":0.5},{"t":8.993,"v":-0.41},{"t":9.01,"v":0.0},{"t":9.03,"v":0.57},{"t":9.045,"v":0.3},{"t":9.06,"v":0.45},{"t":9.07,"v":0.2},{"t":9.08,"v":0.35},{"t":9.12,"v":0.35},{"t":9.127,"v":0.2},{"t":9.135,"v":0.35},{"t":9.18,"v":0.35},{"t":9.187,"v":0.2},{"t":9.195,"v":0.35},{"t":9.402,"v":0.35},
{"t":9.414,"v":1.36},{"t":9.424,"v":0.5},{"t":9.442,"v":-0.41},{"t":9.459,"v":0.0},{"t":9.479,"v":0.57},{"t":9.494,"v":0.45},{"t":9.509,"v":0.35},{"t":9.74,"v":0.35},{"t":9.747,"v":0.2},{"t":9.755,"v":0.35},{"t":9.857,"v":0.35},
{"t":9.869,"v":1.36},{"t":9.879,"v":0.5},{"t":9.897,"v":-0.41},{"t":9.914,"v":0.0},{"t":9.934,"v":0.6},{"t":9.95,"v":0.3},{"t":9.96,"v":-0.05},{"t":9.995,"v":-0.05}
]
},
"bounds": "flush",
"spacing": 116,
"resolve": {"scale": {"color": "independent"}, "legend": {"color": "independent"}},
"vconcat": [
{
"width": 819, "height": 211,
"data": {"name": "p1"},
"layer": [
{"mark": {"type": "line", "strokeWidth": 1.3, "interpolate": "monotone"},
"encoding": {
"x": {"field": "t", "type": "quantitative", "scale": {"domain": [0, 10], "nice": false}, "axis": {"values": [0,1,2,3,4,5,6,7,8,9,10], "title": "Time [s]"}},
"y": {"field": "v", "type": "quantitative", "scale": {"domain": [-5, 5], "nice": false}, "axis": {"values": [-5,0,5], "title": "Voltage [V]", "labelExpr": "datum.value + ''"}},
"color": {"datum": "EVO without resistor 12 m/s", "type": "nominal", "scale": {"range": ["black"]}, "legend": {"orient": "none", "legendX": 453, "legendY": 148, "title": null}}
}},
{"mark": {"type": "line", "strokeOpacity": 0},
"encoding": {
"x": {"field": "t", "type": "quantitative", "axis": {"orient": "top", "values": [0,1,2,3,4,5,6,7,8,9,10], "labels": false, "title": null, "domain": false}},
"y": {"field": "v", "type": "quantitative", "axis": {"orient": "right", "values": [-5,0,5], "labels": false, "title": null, "domain": false}}
}}
],
"resolve": {"axis": {"x": "independent", "y": "independent"}}
},
{
"width": 819, "height": 211,
"data": {"name": "p2"},
"layer": [
{"mark": {"type": "line", "strokeWidth": 1.3, "interpolate": "monotone"},
"encoding": {
"x": {"field": "t", "type": "quantitative", "scale": {"domain": [0, 10], "nice": false}, "axis": {"values": [0,1,2,3,4,5,6,7,8,9,10], "title": "Time [s]"}},
"y": {"field": "v", "type": "quantitative", "scale": {"domain": [-5, 5], "nice": false}, "axis": {"values": [-5,0,5], "title": "Voltage [V]", "labelExpr": "datum.value + ''"}},
"color": {"datum": "EVO without resistor 8 m/s", "type": "nominal", "scale": {"range": ["black"]}, "legend": {"orient": "none", "legendX": 466, "legendY": 148, "title": null}}
}},
{"mark": {"type": "line", "strokeOpacity": 0},
"encoding": {
"x": {"field": "t", "type": "quantitative", "axis": {"orient": "top", "values": [0,1,2,3,4,5,6,7,8,9,10], "labels": false, "title": null, "domain": false}},
"y": {"field": "v", "type": "quantitative", "axis": {"orient": "right", "values": [-5,0,5], "labels": false, "title": null, "domain": false}}
}}
],
"resolve": {"axis": {"x": "independent", "y": "independent"}}
},
{
"width": 819, "height": 211,
"data": {"name": "p3"},
"layer": [
{"mark": {"type": "line", "strokeWidth": 1.3, "interpolate": "monotone"},
"encoding": {
"x": {"field": "t", "type": "quantitative", "scale": {"domain": [0, 10], "nice": false}, "axis": {"values": [0,1,2,3,4,5,6,7,8,9,10], "title": "Time [s]"}},
"y": {"field": "v", "type": "quantitative", "scale": {"domain": [-5, 5], "nice": false}, "axis": {"values": [-5,0,5], "title": "Voltage [V]", "labelExpr": "datum.value + ''"}},
"color": {"datum": "EVO without resistor 4 m/s", "type": "nominal", "scale": {"range": ["black"]}, "legend": {"orient": "none", "legendX": 470, "legendY": 149, "title": null}}
}},
{"mark": {"type": "line", "strokeOpacity": 0},
"encoding": {
"x": {"field": "t", "type": "quantitative", "axis": {"orient": "top", "values": [0,1,2,3,4,5,6,7,8,9,10], "labels": false, "title": null, "domain": false}},
"y": {"field": "v", "type": "quantitative", "axis": {"orient": "right", "values": [-5,0,5], "labels": false, "title": null, "domain": false}}
}}
],
"resolve": {"axis": {"x": "independent", "y": "independent"}}
}
],
"config": {
"background": "white",
"view": {"stroke": "black", "strokeWidth": 1},
"axis": {"grid": false, "labelFlush": false, "domainColor": "black", "tickColor": "black", "labelColor": "black", "titleColor": "black", "tickSize": -7, "tickWidth": 1, "domainWidth": 1, "labelFont": "Liberation Sans", "labelFontSize": 19, "titleFont": "Liberation Serif", "titleFontSize": 28, "titleFontWeight": "normal", "labelPadding": 10, "titlePadding": 3},
"axisBottom": {"labelPadding": 11},
"axisLeft": {"labelPadding": 12, "titlePadding": 2},
"legend": {"symbolType": "stroke", "symbolSize": 2500, "symbolStrokeWidth": 1.3, "symbolOpacity": 1, "symbolStrokeColor": "black", "labelFont": "Liberation Sans", "labelFontSize": 23, "labelColor": "black", "labelOffset": 15, "padding": 0, "labelLimit": 500}
}
}
